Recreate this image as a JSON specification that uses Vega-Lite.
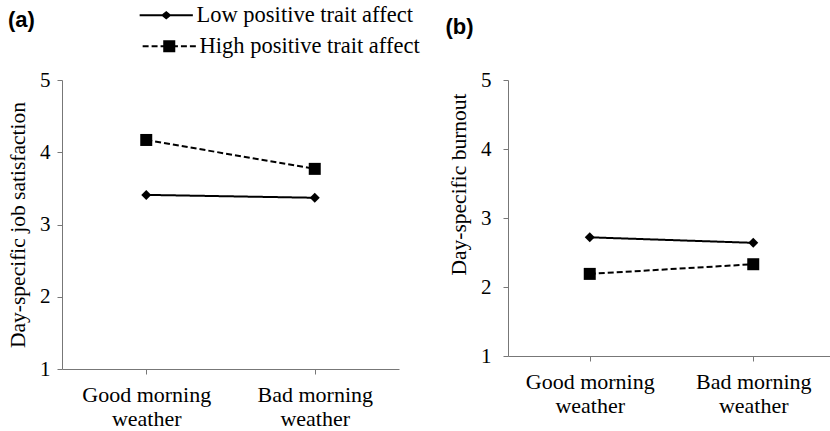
{
  "$schema": "https://vega.github.io/schema/vega-lite/v6.json",
  "background": "white",
  "padding": {"left": 7, "top": 4, "right": 0, "bottom": 0},
  "config": {
    "font": "Liberation Serif",
    "view": {"stroke": null},
    "axis": {
      "domainColor": "#777777",
      "tickColor": "#777777",
      "tickSize": 5,
      "grid": false,
      "labelFont": "Liberation Serif",
      "labelColor": "black",
      "titleFont": "Liberation Serif",
      "titleColor": "black",
      "titleFontWeight": "normal"
    },
    "legend": {
      "labelFont": "Liberation Serif", "labelFontSize": 22.5, "labelColor": "black", "labelLimit": 0,
      "symbolSize": 196, "symbolStrokeWidth": 0, "symbolFillColor": "black", "symbolStrokeColor": "transparent", "symbolOpacity": 1,
      "labelOffset": 19, "orient": "none"
    },
    "title": {"font": "Liberation Sans", "fontWeight": "bold", "fontSize": 22, "color": "black", "anchor": "start", "frame": "bounds"}
  },
  "data": {
    "values": [
      {"panel": "a", "weather": "Good morning weather", "group": "Low positive trait affect", "value": 3.41},
      {"panel": "a", "weather": "Bad morning weather", "group": "Low positive trait affect", "value": 3.37},
      {"panel": "a", "weather": "Good morning weather", "group": "High positive trait affect", "value": 4.17},
      {"panel": "a", "weather": "Bad morning weather", "group": "High positive trait affect", "value": 3.77},
      {"panel": "b", "weather": "Good morning weather", "group": "Low positive trait affect", "value": 2.72},
      {"panel": "b", "weather": "Bad morning weather", "group": "Low positive trait affect", "value": 2.64},
      {"panel": "b", "weather": "Good morning weather", "group": "High positive trait affect", "value": 2.19},
      {"panel": "b", "weather": "Bad morning weather", "group": "High positive trait affect", "value": 2.33}
    ]
  },
  "spacing": 25,
  "hconcat": [
    {
      "width": 337,
      "height": 289,
      "transform": [{"filter": "datum.panel === 'a'"}],
      "encoding": {
        "x": {
          "field": "weather", "type": "nominal", "sort": ["Good morning weather", "Bad morning weather"],
          "scale": {"paddingInner": 0, "paddingOuter": 0},
          "axis": {"title": null, "labelAngle": 0, "labelFontSize": 22, "labelLineHeight": 24, "labelPadding": 10, "bandPosition": 1,
            "labelExpr": "datum.value === 'Good morning weather' ? ['Good morning', 'weather'] : ['Bad morning', 'weather']"}
        },
        "y": {
          "field": "value", "type": "quantitative",
          "scale": {"domain": [1, 5], "nice": false},
          "axis": {"title": "Day-specific job satisfaction", "values": [1, 2, 3, 4, 5], "labelFontSize": 21, "titleFontSize": 21.5, "labelPadding": 7, "titlePadding": 10}
        }
      },
      "layer": [
        {
          "mark": {"type": "line", "color": "black", "strokeWidth": 2},
          "encoding": {
            "strokeDash": {
              "field": "group", "type": "nominal",
              "scale": {"domain": ["Low positive trait affect", "High positive trait affect"], "range": [[1, 0], [6, 3]]},
              "legend": {
                "values": ["Low positive trait affect"],
                "title": "(a)", "titleOrient": "left", "titleAnchor": "start", "titleBaseline": "line-top", "titleLineHeight": 34,
                "titleFont": "Liberation Sans", "titleFontWeight": "bold", "titleFontSize": 22, "titleColor": "black", "titlePadding": 120,
                "legendX": -54, "legendY": -76,
                "symbolType": "M-3.8,-0.15L3.8,-0.15L3.8,0.15L-3.8,0.15Z M0,-0.62L0.75,0L0,0.62L-0.75,0Z"
              }
            }
          }
        },
        {
          "transform": [{"filter": "datum.group === 'Low positive trait affect'"}],
          "mark": {"type": "point", "filled": true, "color": "black", "opacity": 1, "shape": "diamond", "size": 100}
        },
        {
          "transform": [{"filter": "datum.group === 'High positive trait affect'"}],
          "mark": {"type": "point", "filled": true, "color": "black", "shape": "square", "size": 144},
          "encoding": {
            "opacity": {
              "field": "group", "type": "nominal",
              "scale": {"domain": ["High positive trait affect", "Low positive trait affect"], "range": [1, 1]},
              "legend": {
                "values": ["High positive trait affect"], "title": null,
                "legendX": 96, "legendY": -45,
                "symbolType": "M-3.8,-0.15L-2.95,-0.15L-2.95,0.15L-3.8,0.15Z M-2.52,-0.15L-1.67,-0.15L-1.67,0.15L-2.52,0.15Z M-1.24,-0.15L-0.86,-0.15L-0.86,0.15L-1.24,0.15Z M-0.86,-0.86L0.86,-0.86L0.86,0.86L-0.86,0.86Z M0.86,-0.15L1.24,-0.15L1.24,0.15L0.86,0.15Z M1.67,-0.15L2.52,-0.15L2.52,0.15L1.67,0.15Z M2.95,-0.15L3.8,-0.15L3.8,0.15L2.95,0.15Z"
              }
            }
          }
        }
      ]
    },
    {
      "width": 327,
      "height": 276,
      "title": {"text": ["", "(b)"], "lineHeight": 12, "offset": 30, "dx": -3},
      "transform": [{"filter": "datum.panel === 'b'"}],
      "encoding": {
        "x": {
          "field": "weather", "type": "nominal", "sort": ["Good morning weather", "Bad morning weather"],
          "scale": {"paddingInner": 0, "paddingOuter": 0},
          "axis": {"title": null, "labelAngle": 0, "labelFontSize": 22, "labelLineHeight": 24, "labelPadding": 10, "bandPosition": 1,
            "labelExpr": "datum.value === 'Good morning weather' ? ['Good morning', 'weather'] : ['Bad morning', 'weather']"}
        },
        "y": {
          "field": "value", "type": "quantitative",
          "scale": {"domain": [1, 5], "nice": false},
          "axis": {"title": "Day-specific burnout", "values": [1, 2, 3, 4, 5], "labelFontSize": 21, "titleFontSize": 21.5, "labelPadding": 12, "titlePadding": 10, "titleY": 104}
        }
      },
      "layer": [
        {
          "mark": {"type": "line", "color": "black", "strokeWidth": 2},
          "encoding": {
            "strokeDash": {
              "field": "group", "type": "nominal",
              "scale": {"domain": ["Low positive trait affect", "High positive trait affect"], "range": [[1, 0], [6, 3]]},
              "legend": null
            }
          }
        },
        {
          "transform": [{"filter": "datum.group === 'Low positive trait affect'"}],
          "mark": {"type": "point", "filled": true, "color": "black", "opacity": 1, "shape": "diamond", "size": 100}
        },
        {
          "transform": [{"filter": "datum.group === 'High positive trait affect'"}],
          "mark": {"type": "point", "filled": true, "color": "black", "opacity": 1, "shape": "square", "size": 144}
        }
      ]
    }
  ],
  "resolve": {"scale": {"strokeDash": "independent", "opacity": "independent"}}
}
